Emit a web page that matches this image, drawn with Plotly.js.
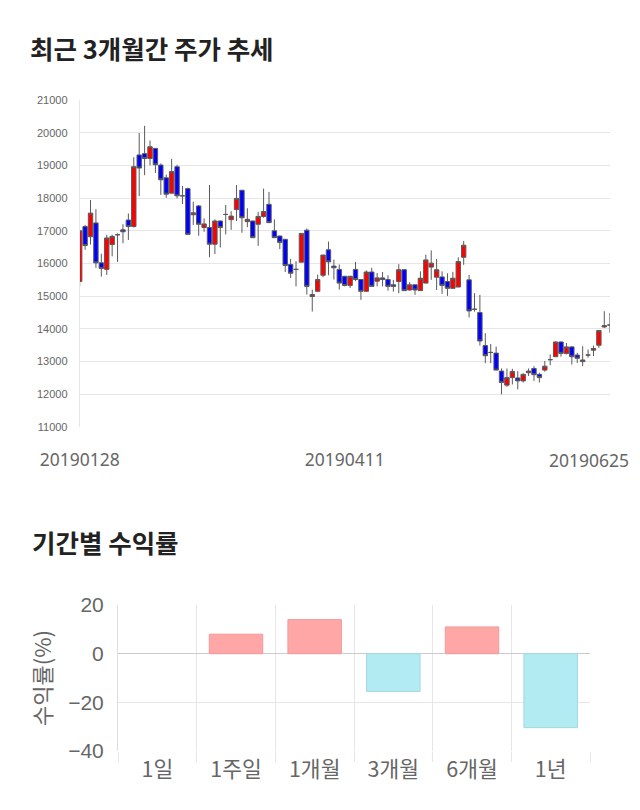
<!DOCTYPE html>
<html>
<head>
<meta charset="utf-8">
<script src="https://cdn.plot.ly/plotly-3.0.1.min.js"></script>
<style>
html,body{margin:0;padding:0;background:#fff;}
#chart{width:640px;height:810px;}
</style>
</head>
<body>
<div id="chart"></div>
<script>
// ---- price chart data (daily candles, 20190128 .. 20190625) ----
const tickDates = ['20190128', '20190411', '20190625'];
const openP  = [15450,17130,16820,17240,16020,15820,16580,16880,17030,17330,
                17130,19320,19360,19210,19520,19010,18620,18150,18960,18070,
                18290,17490,17760,17100,17100,16590,17300,17500,17340,17650,
                18240,17280,17300,17200,17440,17810,17000,16840,16740,15970,
                15820,16040,17020,14990,15150,15640,16420,15920,15820,15610,
                15330,15820,15510,15150,15740,15460,15560,15510,15350,15450,
                15810,15190,15350,15170,15400,15890,15580,15590,15450,15240,
                15280,16190,15500,14600,14500,13490,13280,13260,12710,12280,
                12510,12500,12410,12660,12790,12610,12740,13060,13150,13600,
                13250,13450,13200,13000,13200,13350,13500,14060,14120];
const highP  = [17000,17180,17940,17660,16300,16880,16880,16920,17200,17530,
                19250,19990,20210,19760,19530,19060,18720,19200,19020,18370,
                18320,17890,17790,17380,18400,17350,17310,17790,17600,18400,
                18250,17690,17310,17580,18290,18190,17350,16850,16750,16140,
                16070,16920,17070,15200,15660,16260,16670,16120,15970,15620,
                15620,16050,15520,15790,15870,15710,15740,15640,15500,15980,
                15820,15430,15350,15760,16270,16400,16140,15760,15700,15745,
                16190,16690,15650,15090,15040,13870,13540,13460,12790,12790,
                12780,12710,12640,12790,12860,12660,13020,13220,13620,13620,
                13570,13470,13270,13470,13370,13490,13950,14540,14490];
const lowP   = [15300,16420,16580,15870,15600,15650,16220,16050,16620,16720,
                17100,18060,18700,19000,18770,18100,18010,18150,17990,17820,
                16890,17180,16850,16970,16190,16290,16490,16890,17030,17300,
                16940,17110,16790,16540,17400,17250,16790,16440,15740,15560,
                15300,16040,15050,14530,15150,15580,15640,15510,15200,15300,
                15250,15460,14890,15150,15300,15300,15300,15170,15140,15090,
                15170,15170,15040,15170,15400,15500,15190,15070,15010,15240,
                15280,15960,14350,14530,13490,12950,12950,12740,12000,12230,
                12300,12150,12360,12560,12410,12360,12690,12890,13150,13150,
                13220,12910,12960,12860,13120,13170,13420,14030,13880];
const closeP = [17000,16550,17540,16020,15850,16780,16830,16880,16970,17130,
                18960,18920,19210,19570,19020,18560,18120,18810,18070,18070,
                16890,17550,17200,17210,16590,17300,17100,17500,17450,17990,
                17400,17350,16790,17440,17590,17250,16790,16640,15940,15700,
                15820,16920,15300,15050,15510,16260,16050,15870,15400,15330,
                15610,15510,15150,15740,15300,15560,15510,15300,15300,15810,
                15170,15350,15190,15550,16110,16010,15810,15330,15240,15550,
                16060,16560,14550,14600,13630,13180,13280,12740,12360,12510,
                12700,12410,12610,12710,12600,12510,12860,13060,13600,13250,
                13450,13150,13100,13050,13200,13400,13950,14100,14120];

// ---- period return data ----
const periods = ['1일', '1주일', '1개월', '3개월', '6개월', '1년'];
const returns = [0, 8.0, 14.0, -15.5, 11.0, -30.4];

const W = 640, H = 810;
const px = v => v / W;
const py = v => 1 - v / H;

const dayIndex = openP.map((_, i) => i);
const lastIdx = dayIndex[dayIndex.length - 1];
const midIdx = Math.floor(lastIdx / 2);

const candle = {
  type: 'candlestick',
  x: dayIndex,
  open: openP, high: highP, low: lowP, close: closeP,
  xaxis: 'x', yaxis: 'y',
  increasing: {fillcolor: '#ff0000', line: {color: '#5a5a5a', width: 1}},
  decreasing: {fillcolor: '#0000ff', line: {color: '#5a5a5a', width: 1}},
  whiskerwidth: 0,
  showlegend: false,
  hoverinfo: 'skip'
};

const barColors = returns.map(v => v >= 0 ? '#ffa6a6' : '#b3ebf2');
const barLines = returns.map(v => v >= 0 ? '#f29a9a' : '#9fd9e3');
const barLineW = returns.map(v => v === 0 ? 0 : 1);
const bars = {
  type: 'bar',
  x: periods,
  y: returns,
  xaxis: 'x2', yaxis: 'y2',
  marker: {color: barColors, line: {color: barLines, width: barLineW}},
  showlegend: false,
  hoverinfo: 'skip'
};

const grey = '#666666';
const layout = {
  width: W, height: H,
  margin: {l: 0, r: 0, t: 0, b: 0},
  paper_bgcolor: '#ffffff',
  plot_bgcolor: '#ffffff',
  showlegend: false,
  boxgap: 0.1,
  boxgroupgap: 0.1,
  bargap: 0.32,
  title: {
    text: '<b>최근 3개월간 주가 추세</b>',
    xref: 'container', yref: 'container',
    x: px(30), xanchor: 'left',
    y: py(50), yanchor: 'middle',
    font: {family: 'Noto Sans CJK KR, sans-serif', size: 25.5, color: '#222222'}
  },
  xaxis: {
    domain: [px(79.7), px(609.7)],
    anchor: 'y',
    type: 'linear',
    range: [0, lastIdx],
    rangeslider: {visible: false},
    showgrid: false, zeroline: false, showline: false,
    tickmode: 'array',
    tickvals: [0, midIdx],
    ticktext: [tickDates[0], tickDates[1]],
    ticks: 'outside', ticklen: 17, tickcolor: 'rgba(0,0,0,0)',
    tickfont: {family: 'Noto Sans, sans-serif', size: 17.5, color: grey}
  },
  yaxis: {
    domain: [py(427), py(100)],
    anchor: 'x',
    range: [11000, 21000],
    tick0: 11000, dtick: 1000,
    tickformat: 'd',
    showgrid: true, gridcolor: '#e6e6e6', gridwidth: 1,
    zeroline: false,
    showline: true, linecolor: '#e6e6e6', linewidth: 1,
    ticks: 'outside', ticklen: 9, tickcolor: 'rgba(0,0,0,0)',
    tickfont: {family: 'Liberation Sans, Arial, sans-serif', size: 11, color: grey}
  },
  xaxis2: {
    domain: [px(118), px(590)],
    anchor: 'y2',
    type: 'category',
    tickson: 'boundaries',
    showgrid: true, gridcolor: '#e6e6e6', gridwidth: 1,
    zeroline: false, showline: false,
    ticks: 'outside', ticklen: 10, tickcolor: '#e6e6e6',
    ticklabelstandoff: 3,
    tickfont: {family: 'Noto Sans CJK KR, sans-serif', size: 21.5, color: grey}
  },
  yaxis2: {
    domain: [py(751), py(605)],
    anchor: 'x2',
    range: [-40, 20],
    tick0: 0, dtick: 20,
    showgrid: true, gridcolor: '#e6e6e6', gridwidth: 1,
    zeroline: true, zerolinecolor: '#cccccc', zerolinewidth: 1,
    showline: true, linecolor: '#dddddd', linewidth: 1,
    ticks: 'outside', ticklen: 9, tickcolor: 'rgba(0,0,0,0)',
    tickfont: {family: 'Liberation Sans, Arial, sans-serif', size: 21, color: grey},
    title: {text: '수익률(%)', standoff: 10,
            font: {family: 'Noto Sans CJK KR, sans-serif', size: 22, color: grey}}
  },
  annotations: [
    {
      text: tickDates[2],
      xref: 'x', yref: 'paper',
      x: lastIdx, y: py(427),
      xanchor: 'right', yanchor: 'middle',
      xshift: 21, yshift: -33,
      showarrow: false,
      font: {family: 'Noto Sans, sans-serif', size: 17.5, color: grey}
    },
    {
      text: '<b>기간별 수익률</b>',
      xref: 'paper', yref: 'paper',
      x: px(30), y: py(541),
      xanchor: 'left', yanchor: 'middle',
      showarrow: false,
      font: {family: 'Noto Sans CJK KR, sans-serif', size: 25.5, color: '#222222'}
    }
  ]
};

Plotly.newPlot('chart', [candle, bars], layout, {displayModeBar: false, staticPlot: true});
</script>
</body>
</html>
